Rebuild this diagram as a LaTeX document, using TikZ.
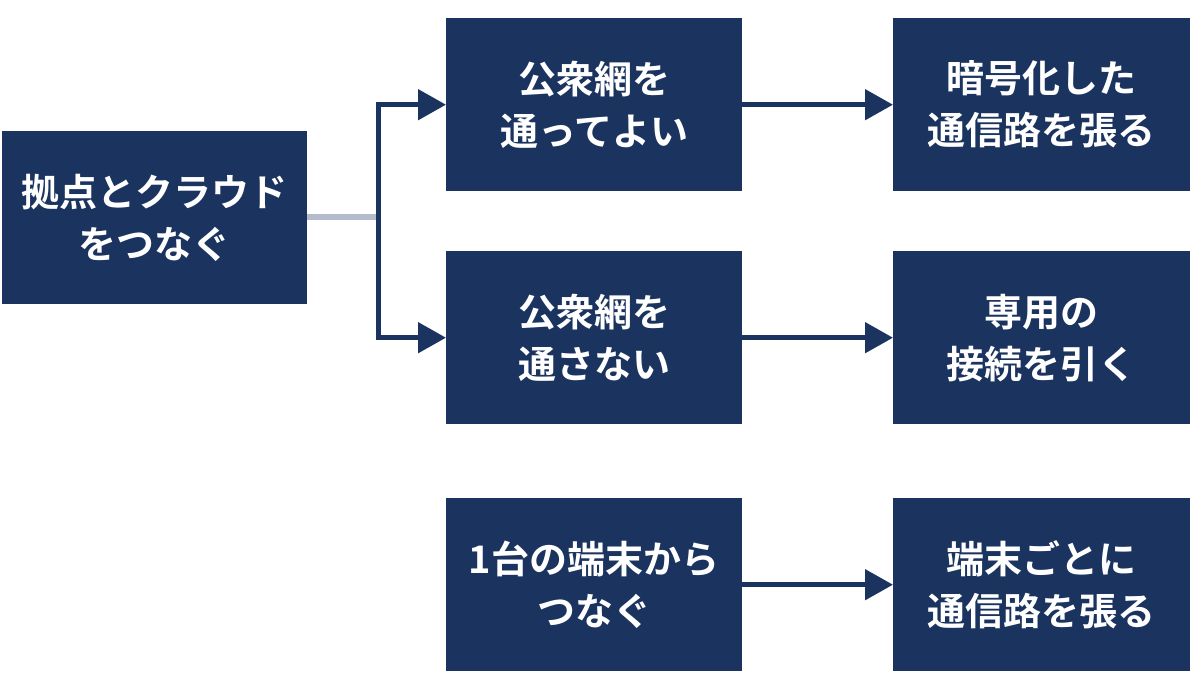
\documentclass[tikz,border=0pt]{standalone}
\usepackage{fontspec}
\newfontfamily\cjk{Noto Sans CJK JP Bold}
\usetikzlibrary{arrows.meta}
\definecolor{navy}{HTML}{1B335F}
\definecolor{lgray}{HTML}{B4BCCB}
\begin{document}
\begin{tikzpicture}[x=1pt,y=-1pt,
  box/.style={fill=navy,draw=none,minimum width=296pt,minimum height=173pt,inner sep=0pt,
    text=white,font=\cjk\fontsize{38}{52}\selectfont,align=center,anchor=north west},
  arr/.style={draw=navy,line width=5pt,-{Triangle[length=28pt,width=30pt]}}]
\useasboundingbox (0,0) rectangle (1200,675);
\node[box,minimum width=305pt] (a) at (2,131) {拠点とクラウド\\をつなぐ};
\node[box] (b1) at (446,18) {公衆網を\\通ってよい};
\node[box] (b2) at (446,251) {公衆網を\\通さない};
\node[box] (b3) at (446,498) {1台の端末から\\つなぐ};
\node[box,minimum width=297pt] (c1) at (893,18) {暗号化した\\通信路を張る};
\node[box,minimum width=297pt] (c2) at (893,251) {専用の\\接続を引く};
\node[box,minimum width=297pt] (c3) at (893,498) {端末ごとに\\通信路を張る};
\coordinate (j) at (378,217);
\draw[lgray,line width=6pt] (a.east |- j) -- (j);
\draw[arr] (j) |- (b1.west);
\draw[arr] (j) |- (b2.west);
\draw[arr] (b1.east) -- (c1.west);
\draw[arr] (b2.east) -- (c2.west);
\draw[arr] (b3.east) -- (c3.west);
\end{tikzpicture}
\end{document}
